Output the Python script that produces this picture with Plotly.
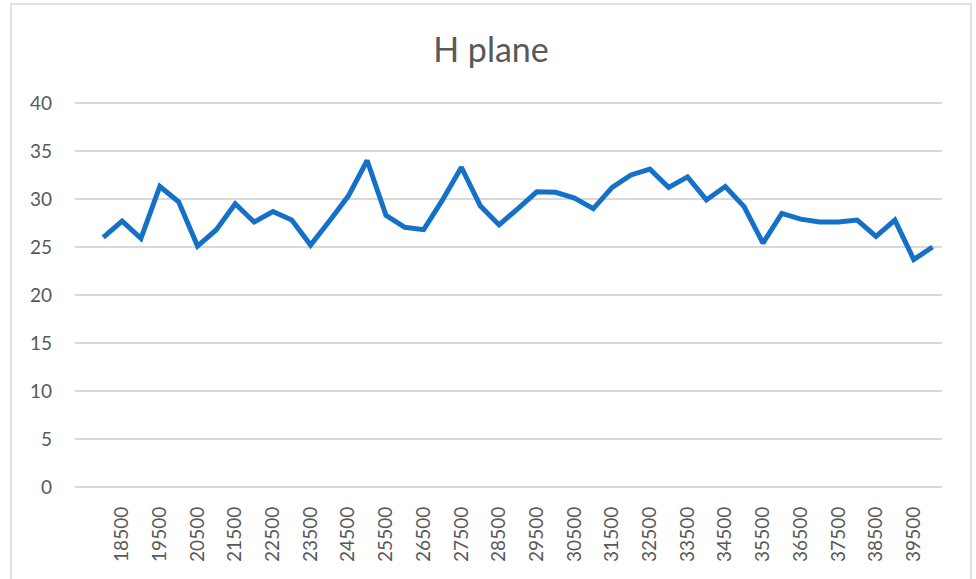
import plotly.graph_objects as go

# frequency steps (18000 .. 40000)
freq = list(range(18000, 40001, 500))
h_plane = [26.0, 27.7, 25.9, 31.3, 29.7, 25.1, 26.8, 29.5, 27.6, 28.7,
           27.8, 25.2, 27.7, 30.3, 34.0, 28.3, 27.05, 26.8, 29.9, 33.3,
           29.3, 27.3, 29.0, 30.75, 30.7, 30.1, 29.0, 31.2, 32.5, 33.1,
           31.2, 32.3, 29.9, 31.3, 29.2, 25.4, 28.5, 27.9, 27.6, 27.6,
           27.8, 26.1, 27.8, 23.7, 25.0]
tick_vals = list(range(18500, 39501, 1000))
tick_text = [str(v) for v in tick_vals]
y_ticks = list(range(0, 41, 5))

fig = go.Figure()
fig.add_trace(go.Scatter(x=freq, y=h_plane, mode="lines",
                         line=dict(color="#1570c8", width=5)))

grey = "#595959"
fig.update_layout(
    width=976, height=579,
    margin=dict(l=75, r=34, t=101, b=90),
    paper_bgcolor="white", plot_bgcolor="white",
    font=dict(family="Lato", color=grey, size=19),
    title=dict(text="H plane", x=491 / 976, xanchor="center",
               y=1 - 50 / 579, yanchor="middle",
               font=dict(size=34, color=grey, family="Lato")),
    showlegend=False,
)
fig.update_xaxes(range=[17250, 40250], tickvals=tick_vals, ticktext=tick_text,
                 tickangle=-90, showgrid=False, zeroline=False, showline=False,
                 ticks="", ticklabelstandoff=13)
fig.update_yaxes(range=[-0.2, 40.2], tickvals=y_ticks, showgrid=True,
                 gridcolor="#d9d9d9", gridwidth=1.5, zeroline=False,
                 showline=False, ticks="", ticklabelstandoff=22)

# outer chart border (plot area spans 75..942 px, 101..489 px)
fig.add_shape(type="rect", xref="paper", yref="paper",
              x0=(11 - 75) / 867, x1=(971 - 75) / 867,
              y0=-0.3, y1=(489 - 4) / 388,
              line=dict(color="#d9d9d9", width=1.5))

fig.write_html("out.html", config={"displayModeBar": False},
               post_script="document.body.style.margin='0';")
